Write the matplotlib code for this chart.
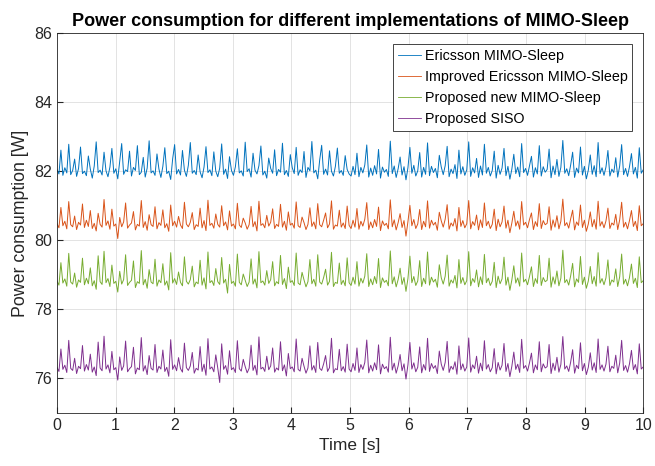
import numpy as np
import matplotlib
matplotlib.use("Agg")
import matplotlib.pyplot as plt

plt.rcParams['font.family'] = ['Liberation Sans', 'DejaVu Sans']

# power consumption traces [W]
ericsson = [82.05, 81.92, 82.61, 81.88, 82.10, 81.95, 82.78, 81.90, 82.02, 82.35, 81.85, 82.08, 82.70, 81.93, 82.00,
            81.87, 82.44, 82.06, 81.80, 82.15, 82.85, 81.96, 82.03, 81.89, 82.55, 82.01, 81.84, 82.12, 82.66, 81.94,
            82.07, 81.78, 82.30, 82.80, 81.91, 82.04, 81.99, 82.58, 81.86, 82.11, 82.02, 82.74, 81.90, 81.97, 82.40,
            81.83, 82.09, 82.88, 81.95, 82.01, 81.88, 82.50, 82.06, 81.82, 82.14, 82.68, 81.93, 82.00, 81.76, 82.36,
            82.77, 81.92, 82.05, 81.89, 82.60, 82.03, 81.85, 82.17, 82.83, 81.94, 82.02, 81.90, 82.47, 81.98, 81.81,
            82.12, 82.71, 81.96, 82.04, 81.87, 82.56, 82.00, 81.84, 82.09, 82.79, 81.91, 82.06, 81.79, 82.42, 82.02,
            81.88, 82.13, 82.65, 81.95, 82.01, 81.86, 82.84, 81.99, 82.07, 81.83, 82.52, 82.03, 81.92, 82.16, 82.73,
            81.89, 82.00, 81.80, 82.38, 82.08, 81.94, 82.62, 81.87, 82.05, 81.97, 82.81, 81.90, 82.02, 81.85, 82.48,
            82.10, 81.93, 82.69, 81.88, 82.04, 81.96, 82.57, 81.82, 82.11, 82.01, 82.86, 81.95, 82.03, 81.78, 82.33,
            82.75, 81.91, 82.06, 81.89, 82.59, 82.00, 81.86, 82.14, 82.67, 81.94, 82.02, 81.88, 82.45, 82.05, 81.92,
            81.86, 82.14, 81.90, 82.52, 81.84, 82.11, 81.95, 82.18, 82.76, 81.83, 82.09, 81.88, 82.16, 81.92, 82.63,
            81.80, 82.12, 81.97, 82.05, 81.85, 82.87, 81.93, 82.15, 81.82, 82.07, 82.41, 81.89, 82.13, 81.75, 82.10,
            82.69, 81.94, 82.17, 81.86, 82.01, 82.54, 81.83, 82.11, 81.91, 82.82, 81.87, 82.14, 81.96, 82.08, 81.81,
            82.46, 82.12, 81.90, 82.16, 82.72, 81.84, 82.06, 81.93, 82.19, 81.79, 82.61, 81.92, 82.13, 81.88, 82.04,
            82.85, 81.85, 82.10, 81.95, 82.37, 81.82, 82.15, 81.89, 82.78, 81.94, 82.11, 81.86, 82.02, 82.58, 81.80,
            82.17, 81.91, 82.09, 82.66, 81.87, 82.14, 81.77, 82.06, 82.49, 81.93, 82.12, 81.84, 82.80, 81.96, 82.08,
            81.88, 82.16, 82.43, 81.83, 82.10, 81.92, 82.74, 81.86, 82.13, 81.97, 82.05, 82.64, 81.81, 82.15, 81.90,
            82.34, 81.85, 82.11, 82.89, 81.94, 82.07, 81.87, 82.18, 82.55, 81.82, 82.09, 81.95, 82.70, 81.89, 82.14,
            81.78, 82.03, 82.47, 81.91, 82.16, 81.84, 82.83, 81.93, 82.10, 81.88, 82.12, 82.60, 81.86, 82.06, 81.96,
            82.39, 81.83, 82.15, 82.77, 81.90, 82.08, 81.85, 82.13, 82.51, 81.92, 82.11, 81.80, 82.68, 81.94, 82.04]

improved = [80.48, 80.36, 80.95, 80.42, 80.55, 80.33, 81.12, 80.45, 80.39, 80.70, 80.31, 80.52, 80.44, 81.05, 80.37,
            80.58, 80.40, 80.86, 80.34, 80.49, 80.27, 80.78, 80.46, 80.38, 81.18, 80.43, 80.56, 80.32, 80.90, 80.41,
            80.47, 80.05, 80.66, 80.39, 80.53, 81.08, 80.35, 80.44, 80.50, 80.83, 80.30, 80.46, 80.41, 81.15, 80.37,
            80.54, 80.29, 80.74, 80.45, 80.40, 80.97, 80.33, 80.51, 80.43, 80.88, 80.36, 80.48, 80.26, 81.02, 80.42,
            80.55, 80.38, 80.69, 80.44, 80.34, 81.10, 80.47, 80.39, 80.52, 80.80, 80.31, 80.45, 80.40, 80.93, 80.36,
            80.57, 80.28, 81.16, 80.43, 80.49, 80.35, 80.76, 80.46, 80.38, 81.00, 80.42, 80.53, 80.30, 80.85, 80.41,
            80.47, 80.33, 81.07, 80.44, 80.37, 80.64, 80.50, 80.32, 80.45, 80.98, 80.39, 80.54, 80.27, 81.13, 80.43,
            80.48, 80.36, 80.72, 80.41, 80.52, 80.91, 80.34, 80.46, 80.40, 81.04, 80.38, 80.55, 80.29, 80.82, 80.44,
            80.49, 80.35, 81.11, 80.42, 80.37, 80.67, 80.51, 80.31, 80.46, 80.94, 80.40, 80.53, 80.33, 81.06, 80.45,
            80.39, 80.58, 80.79, 80.36, 80.47, 81.14, 80.32, 80.44, 80.41, 80.87, 80.38, 80.50, 80.34, 80.99, 80.43,
            80.34, 80.58, 80.38, 80.92, 80.32, 80.55, 80.41, 80.61, 81.09, 80.31, 80.53, 80.36, 80.60, 80.40, 80.96,
            80.28, 80.56, 80.43, 80.49, 80.33, 81.17, 80.39, 80.59, 80.30, 80.51, 80.77, 80.37, 80.57, 80.12, 80.54,
            81.01, 80.42, 80.60, 80.34, 80.47, 80.89, 80.31, 80.55, 80.39, 81.14, 80.35, 80.58, 80.44, 80.52, 80.29,
            80.81, 80.56, 80.38, 80.61, 81.03, 80.32, 80.50, 80.41, 80.63, 80.27, 80.95, 80.40, 80.57, 80.36, 80.48,
            81.15, 80.33, 80.54, 80.43, 80.73, 80.30, 80.59, 80.37, 81.08, 80.42, 80.55, 80.34, 80.46, 80.90, 80.28,
            80.61, 80.39, 80.53, 80.99, 80.35, 80.58, 80.22, 80.50, 80.84, 80.41, 80.56, 80.32, 81.12, 80.44, 80.52,
            80.36, 80.60, 80.79, 80.31, 80.54, 80.40, 81.06, 80.34, 80.57, 80.45, 80.49, 80.97, 80.29, 80.59, 80.38,
            80.71, 80.33, 80.55, 81.19, 80.42, 80.51, 80.35, 80.62, 80.87, 80.30, 80.53, 80.43, 81.02, 80.37, 80.58,
            80.26, 80.47, 80.82, 80.39, 80.60, 80.32, 81.13, 80.41, 80.54, 80.36, 80.56, 80.93, 80.34, 80.50, 80.44,
            80.75, 80.31, 80.59, 81.10, 80.38, 80.52, 80.33, 80.57, 80.86, 80.40, 80.55, 80.28, 81.00, 80.42, 80.48]

proposed = [78.82, 78.70, 79.35, 78.76, 78.88, 78.67, 79.62, 78.79, 78.73, 79.05, 78.64, 78.85, 78.78, 79.48, 78.71,
            78.90, 78.74, 79.20, 78.68, 78.83, 78.58, 79.55, 78.80, 78.72, 79.68, 78.77, 78.89, 78.66, 79.28, 78.75,
            78.81, 78.50, 79.10, 78.73, 78.86, 79.58, 78.69, 78.78, 78.84, 79.40, 78.63, 78.80, 78.75, 79.70, 78.71,
            78.87, 78.61, 79.15, 78.79, 78.74, 79.45, 78.67, 78.85, 78.77, 79.32, 78.70, 78.82, 78.56, 79.64, 78.76,
            78.89, 78.72, 79.08, 78.78, 78.68, 79.52, 78.81, 78.73, 78.86, 79.25, 78.65, 78.79, 78.74, 79.42, 78.70,
            78.91, 78.59, 79.66, 78.77, 78.83, 78.69, 79.18, 78.80, 78.72, 79.50, 78.76, 78.87, 78.47, 79.30, 78.75,
            78.81, 78.67, 79.60, 78.78, 78.71, 79.02, 78.84, 78.66, 78.79, 79.46, 78.73, 78.88, 78.62, 79.67, 78.77,
            78.82, 78.70, 79.12, 78.75, 78.86, 79.38, 78.68, 78.80, 78.74, 79.56, 78.72, 78.89, 78.60, 79.22, 78.78,
            78.83, 78.69, 79.63, 78.76, 78.71, 79.07, 78.85, 78.65, 78.80, 79.44, 78.74, 78.87, 78.67, 79.58, 78.79,
            78.73, 78.92, 79.16, 78.70, 78.81, 79.65, 78.66, 78.78, 78.75, 79.34, 78.72, 78.84, 78.68, 79.49, 78.77,
            78.69, 78.93, 78.73, 79.38, 78.67, 78.90, 78.76, 78.96, 79.61, 78.66, 78.88, 78.71, 78.95, 78.75, 79.47,
            78.63, 78.91, 78.78, 78.84, 78.68, 79.69, 78.74, 78.94, 78.65, 78.86, 79.19, 78.72, 78.92, 78.52, 78.89,
            79.54, 78.77, 78.95, 78.69, 78.82, 79.41, 78.66, 78.90, 78.74, 79.66, 78.70, 78.93, 78.79, 78.87, 78.64,
            79.29, 78.91, 78.73, 78.96, 79.57, 78.67, 78.85, 78.76, 78.98, 78.62, 79.44, 78.75, 78.92, 78.71, 78.83,
            79.67, 78.68, 78.89, 78.78, 79.14, 78.65, 78.94, 78.72, 79.59, 78.77, 78.90, 78.69, 78.81, 79.36, 78.63,
            78.96, 78.74, 78.88, 79.51, 78.70, 78.93, 78.55, 78.85, 79.26, 78.76, 78.91, 78.67, 79.63, 78.79, 78.87,
            78.71, 78.95, 79.23, 78.66, 78.89, 78.75, 79.56, 78.69, 78.92, 78.80, 78.84, 79.48, 78.64, 78.94, 78.73,
            79.11, 78.68, 78.90, 79.71, 78.77, 78.86, 78.70, 78.97, 79.33, 78.65, 78.88, 78.78, 79.53, 78.72, 78.93,
            78.61, 78.82, 79.24, 78.74, 78.95, 78.67, 79.64, 78.76, 78.89, 78.71, 78.91, 79.43, 78.69, 78.85, 78.79,
            79.17, 78.66, 78.94, 79.60, 78.73, 78.87, 78.68, 78.92, 79.31, 78.75, 78.90, 78.63, 79.52, 78.77, 78.83]

siso = [76.32, 76.20, 76.85, 76.26, 76.38, 76.17, 77.10, 76.29, 76.23, 76.58, 76.14, 76.35, 76.28, 76.95, 76.21,
        76.40, 76.24, 76.70, 76.18, 76.33, 76.08, 77.05, 76.30, 76.22, 77.22, 76.27, 76.39, 76.16, 76.78, 76.25,
        76.31, 75.95, 76.62, 76.23, 76.36, 77.08, 76.19, 76.28, 76.34, 76.90, 76.13, 76.30, 76.25, 77.18, 76.21,
        76.37, 76.11, 76.66, 76.29, 76.24, 76.98, 76.17, 76.35, 76.27, 76.82, 76.20, 76.32, 76.06, 77.12, 76.26,
        76.39, 76.22, 76.60, 76.28, 76.18, 77.02, 76.31, 76.23, 76.36, 76.75, 76.15, 76.29, 76.24, 76.92, 76.20,
        76.41, 76.09, 77.15, 76.27, 76.33, 76.19, 76.68, 76.30, 75.88, 77.00, 76.26, 76.37, 76.12, 76.80, 76.25,
        76.31, 76.17, 77.09, 76.28, 76.21, 76.55, 76.34, 76.16, 76.29, 76.96, 76.23, 76.38, 76.10, 77.20, 76.27,
        76.32, 76.20, 76.64, 76.25, 76.36, 76.88, 76.18, 76.30, 76.24, 77.06, 76.22, 76.39, 76.07, 76.72, 76.28,
        76.33, 76.19, 77.14, 76.26, 76.21, 76.58, 76.35, 76.15, 76.30, 76.94, 76.24, 76.37, 76.17, 77.04, 76.29,
        76.23, 76.42, 76.66, 76.20, 76.31, 77.16, 76.16, 76.28, 76.25, 76.84, 76.22, 76.34, 76.18, 76.99, 76.27,
        76.19, 76.43, 76.23, 76.88, 76.17, 76.40, 76.26, 76.46, 77.11, 76.16, 76.38, 76.21, 76.45, 76.25, 76.97,
        76.13, 76.41, 76.28, 76.34, 76.18, 77.19, 76.24, 76.44, 76.15, 76.36, 76.69, 76.22, 76.42, 75.98, 76.39,
        77.04, 76.27, 76.45, 76.19, 76.32, 76.91, 76.16, 76.40, 76.24, 77.16, 76.20, 76.43, 76.29, 76.37, 76.14,
        76.79, 76.41, 76.23, 76.46, 77.07, 76.17, 76.35, 76.26, 76.48, 76.12, 76.94, 76.25, 76.42, 76.21, 76.33,
        77.17, 76.18, 76.39, 76.28, 76.64, 76.15, 76.44, 76.22, 77.09, 76.27, 76.40, 76.19, 76.31, 76.86, 76.13,
        76.46, 76.24, 76.38, 77.01, 76.20, 76.43, 76.05, 76.35, 76.76, 76.26, 76.41, 76.17, 77.13, 76.29, 76.37,
        76.21, 76.45, 76.73, 76.16, 76.39, 76.25, 77.06, 76.19, 76.42, 76.30, 76.34, 76.98, 76.14, 76.44, 76.23,
        76.61, 76.18, 76.40, 77.21, 76.27, 76.36, 76.20, 76.47, 76.83, 76.15, 76.38, 76.28, 77.03, 76.22, 76.43,
        76.11, 76.32, 76.74, 76.24, 76.45, 76.17, 77.14, 76.26, 76.39, 76.21, 76.41, 76.93, 76.19, 76.35, 76.29,
        76.67, 76.16, 76.44, 77.10, 76.23, 76.37, 76.18, 76.42, 76.81, 76.25, 76.40, 76.13, 77.00, 76.27, 76.33]

labels = ['Ericsson MIMO-Sleep', 'Improved Ericsson MIMO-Sleep',
          'Proposed new MIMO-Sleep', 'Proposed SISO']
colors = ['#0072BD', '#D95319', '#77AC30', '#7E2F8E']

t = np.linspace(0, 10, len(ericsson))

fig = plt.figure(figsize=(6.55, 4.66), dpi=100)
ax = fig.add_axes([0.087, 0.114, 0.895, 0.815])

for y, lab, c in zip([ericsson, improved, proposed, siso], labels, colors):
    ax.plot(t, y, color=c, lw=0.7, label=lab)

ax.set_xlim(0, 10)
ax.set_ylim(75, 86)
ax.set_xticks(range(0, 11))
ax.set_yticks([76, 78, 80, 82, 84, 86])
ax.grid(True, color='#262626', alpha=0.15, lw=0.6)
ax.tick_params(direction='in', labelsize=11.5, colors='#262626', length=4)
for s in ax.spines.values():
    s.set_color('#262626')
    s.set_linewidth(0.6)

ax.set_xlabel('Time [s]', fontsize=12.5, color='#262626')
ax.set_ylabel('Power consumption [W]', fontsize=12.8, color='#262626')
ax.set_title('Power consumption for different implementations of MIMO-Sleep',
             fontsize=13, fontweight='bold', pad=5)

leg = ax.legend(loc='upper right', fontsize=10.3, fancybox=False, framealpha=1,
                edgecolor='#262626', handlelength=1.6, handletextpad=0.25,
                borderaxespad=0.75, labelspacing=0.5, borderpad=0.35)
leg.get_frame().set_linewidth(0.6)
for h in leg.get_lines():
    h.set_linewidth(0.6)

fig.savefig('out.png', dpi=100)
